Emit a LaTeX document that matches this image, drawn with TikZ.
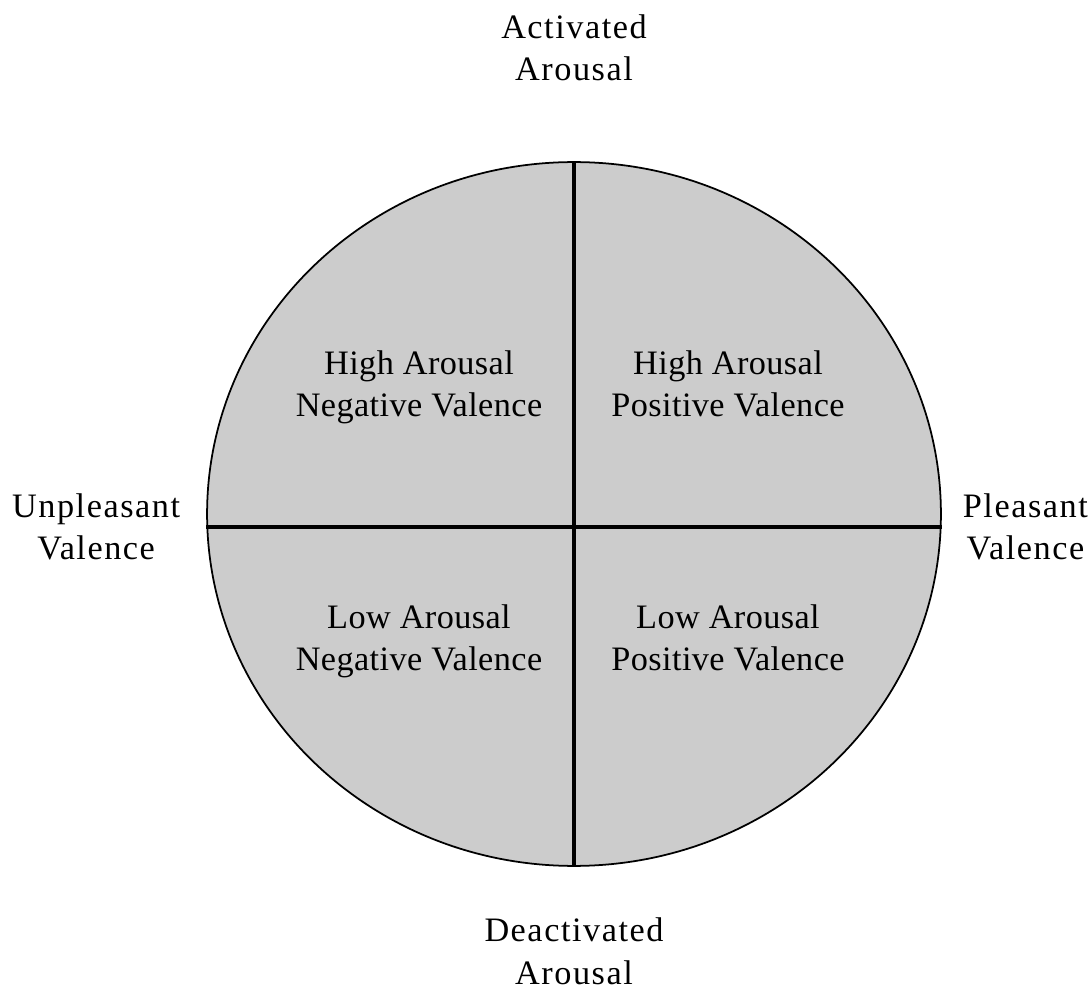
\documentclass[tikz,border=0pt]{standalone}
\usepackage{fontspec}
\setmainfont{Liberation Serif}
\newfontfamily\polefont[LetterSpace=4.5]{Liberation Serif}
\newfontfamily\quadfont[LetterSpace=1.2]{Liberation Serif}
\usetikzlibrary{shapes.geometric, positioning}

\begin{document}
\begin{tikzpicture}[x=0.02cm, y=-0.02cm]
    \tikzset{
        disc/.style = {ellipse, draw=black, fill=black!20, line width=1pt, inner sep=0pt, minimum width=14.68cm, minimum height=14.08cm},
        axis/.style = {draw=black, line width=2.3pt},
        quad/.style = {align=center, inner sep=0pt, font=\quadfont\fontsize{19.5}{24}\selectfont},
        pole/.style = {align=center, inner sep=0pt, font=\polefont\fontsize{19.5}{24}\selectfont},
    }
    \useasboundingbox (0,0) rectangle (1092,989);

    \node[disc](disc) at (574,514){};

    \path [axis] (disc.north) -- (disc.south);
    \path [axis] (disc.182) -- (disc.-2);

    \node[quad](hineg) at (419,387){High Arousal\\Negative Valence};
    \node[quad](hipos) at (728,384){High Arousal\\Positive Valence};
    \node[quad](loneg) at (419,641){Low Arousal\\Negative Valence};
    \node[quad](lopos) at (728,638){Low Arousal\\Positive Valence};

    \node[pole](act)[above = 1.6cm of disc.north]{Activated\\Arousal};
    \node[pole](deact)[below = 1.02cm of disc.south]{Deactivated\\Arousal};
    \node[pole](unpl)[left = 0.52cm of disc.182]{Unpleasant\\Valence};
    \node[pole](pleas)[right = 0.42cm of disc.-2]{Pleasant\\Valence};

\end{tikzpicture}
\end{document}
